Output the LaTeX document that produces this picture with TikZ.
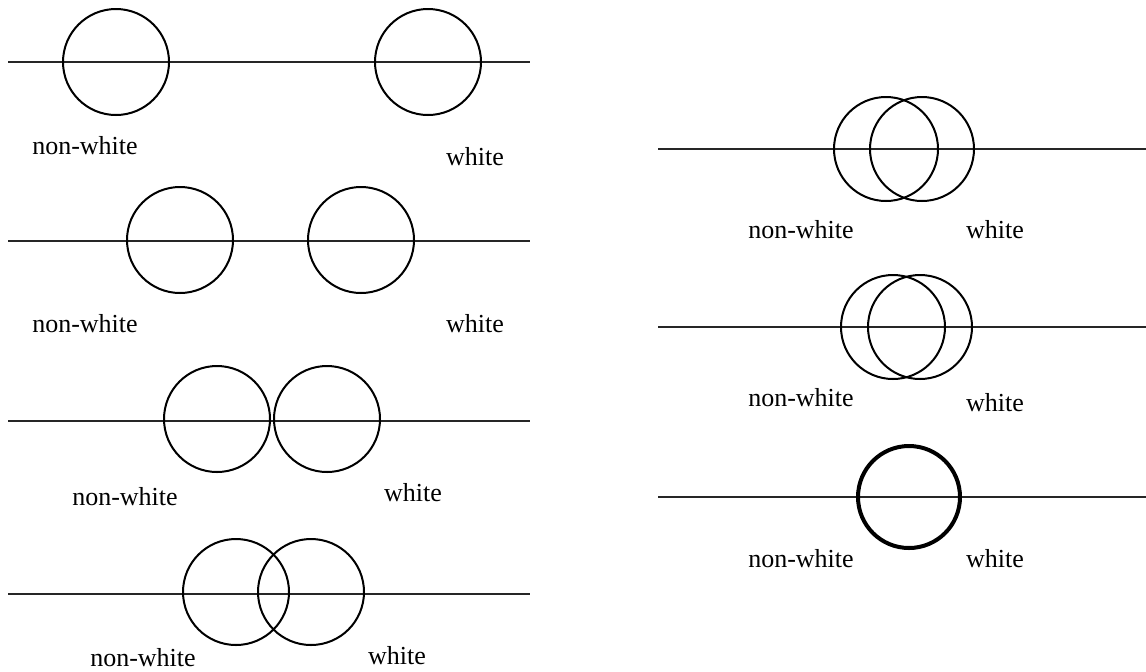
\documentclass[tikz,border=0pt]{standalone}
\usepackage{fontspec}
\setmainfont{Liberation Serif}
\begin{document}
\begin{tikzpicture}[x=0.5pt,y=-0.5pt,
  ring/.style={circle,draw=black,line width=1pt,inner sep=0pt,minimum size=#1},
  ring/.default=53pt,
  thickring/.style={circle,draw=black,line width=2pt,inner sep=0pt,minimum size=51pt},
  axis/.style={draw=black!85,line width=1.1pt},
  lab/.style={inner sep=0pt,font=\fontsize{13}{15}\selectfont}]
\useasboundingbox (0,0) rectangle (1146,671);
% ---------- left column ----------
% row 1
\coordinate (a1) at (8,62); \coordinate (b1) at (530,62);
\draw[axis] (a1) -- (b1);
\node[ring] (n1) at (116,62) {};
\node[ring] (w1) at (428,62) {};
\node[lab] (tn1) at (85,146) {non-white};
\node[lab] (tw1) at (475,157) {white};
% row 2
\coordinate (a2) at (8,241); \coordinate (b2) at (530,241);
\draw[axis] (a2) -- (b2);
\node[ring] (n2) at (180,240) {};
\node[ring] (w2) at (361,240) {};
\node[lab] (tn2) at (85,324) {non-white};
\node[lab] (tw2) at (475,324) {white};
% row 3
\coordinate (a3) at (8,421); \coordinate (b3) at (530,421);
\draw[axis] (a3) -- (b3);
\node[ring] (n3) at (217,419) {};
\node[ring] (w3) at (327,419) {};
\node[lab] (tn3) at (125,497) {non-white};
\node[lab] (tw3) at (413,493) {white};
% row 4
\coordinate (a4) at (8,594); \coordinate (b4) at (530,594);
\draw[axis] (a4) -- (b4);
\node[ring] (n4) at (236,592) {};
\node[ring] (w4) at (311,592) {};
\node[lab] (tn4) at (143,658) {non-white};
\node[lab] (tw4) at (397,656) {white};
% ---------- right column ----------
% row 1
\coordinate (c1) at (658,149); \coordinate (d1) at (1146,149);
\draw[axis] (c1) -- (d1);
\node[ring=52pt] (rn1) at (886,149) {};
\node[ring=52pt] (rw1) at (922,149) {};
\node[lab] (rtn1) at (801,230) {non-white};
\node[lab] (rtw1) at (995,230) {white};
% row 2
\coordinate (c2) at (658,327); \coordinate (d2) at (1146,327);
\draw[axis] (c2) -- (d2);
\node[ring=52pt] (rn2) at (893,327) {};
\node[ring=52pt] (rw2) at (920,327) {};
\node[lab] (rtn2) at (801,398) {non-white};
\node[lab] (rtw2) at (995,403) {white};
% row 3
\coordinate (c3) at (658,497); \coordinate (d3) at (1146,497);
\draw[axis] (c3) -- (d3);
\node[thickring] (rc3) at (909,497) {};
\node[lab] (rtn3) at (801,559) {non-white};
\node[lab] (rtw3) at (995,559) {white};
\end{tikzpicture}
\end{document}
